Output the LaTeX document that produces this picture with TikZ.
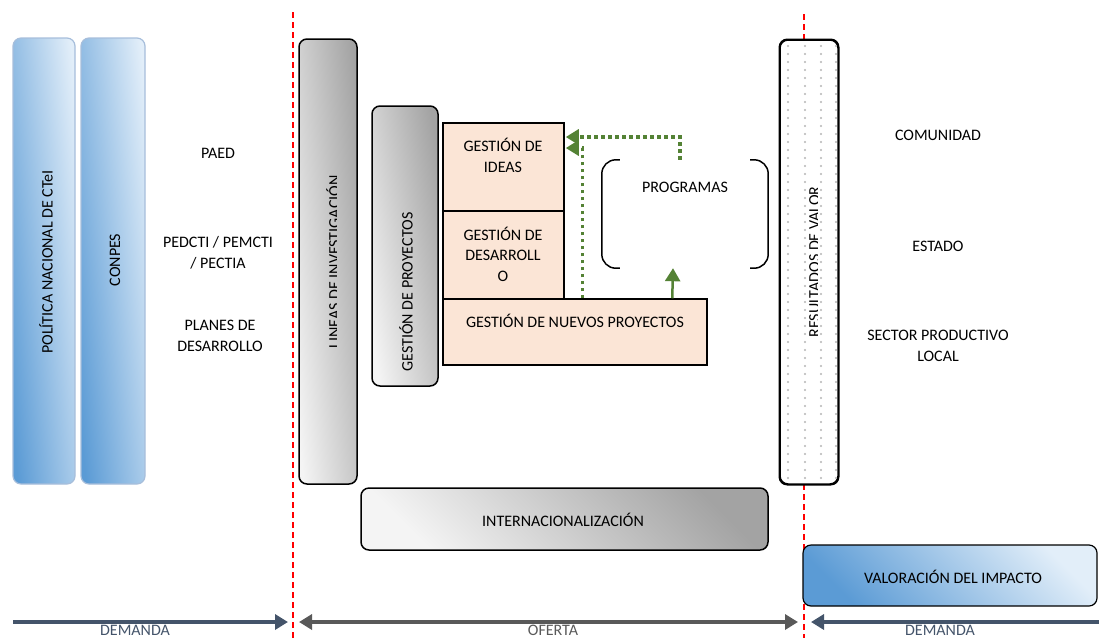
\documentclass[tikz,border=0pt]{standalone}
\usepackage{fontspec}
\setmainfont{Carlito}
\usetikzlibrary{arrows.meta,calc}
\definecolor{bluedark}{HTML}{5B9BD5}
\definecolor{bluelight}{HTML}{E2EEF9}
\definecolor{blueborder}{HTML}{A7BEDB}
\definecolor{graydark}{HTML}{A3A3A3}
\definecolor{graylight}{HTML}{F4F4F4}
\definecolor{peach}{HTML}{FBE5D6}
\definecolor{gr}{HTML}{548235}
\definecolor{demcol}{HTML}{44546A}
\definecolor{ofcol}{HTML}{595959}
\definecolor{dotcol}{HTML}{B4B4B4}
\begin{document}
\begin{tikzpicture}[x=1pt,y=-1pt,
  font=\fontsize{16}{20.5}\selectfont,
  txt/.style={align=center, inner sep=0pt},
  bluebox/.style={draw=blueborder, line width=1.2pt, rounded corners=8pt, inner sep=0pt,
     top color=bluelight, bottom color=bluedark, shading angle=-45},
  tallblue/.style={bluebox, shading angle=-84},
  graybox/.style={draw=black, line width=1.5pt, rounded corners=8pt, inner sep=0pt,
     top color=graydark, bottom color=graylight, shading angle=-45},
  tallgray/.style={graybox, shading angle=-84},
  pbox/.style={draw=black, line width=1.5pt, fill=peach, inner sep=0pt},
  redline/.style={red, line width=1.5pt, dash pattern=on 6pt off 4pt},
  gdot/.style={gr, line width=3.5pt, dash pattern=on 3.5pt off 3.5pt,
     -{Triangle[length=13pt,width=15pt]}},
  gsolid/.style={gr, line width=2.5pt, -{Triangle[length=13pt,width=15pt]}},
  bracket/.style={draw=black, line width=1.5pt, rounded corners=14pt},
  demarrow/.style={demcol, line width=4pt, -{Triangle[length=13pt,width=15pt]}},
  ofarrow/.style={ofcol, line width=4pt, {Triangle[length=13pt,width=15pt]}-{Triangle[length=13pt,width=15pt]}}
]
\useasboundingbox (0,0) rectangle (1099,638);

% red dashed separators
\coordinate (r1t) at (293,12); \coordinate (r1b) at (293,638);
\coordinate (r2t) at (804,14); \coordinate (r2b) at (804,638);
\draw[redline] (r1t) -- (r1b);
\draw[redline] (r2t) -- (r2b);

% left blue columns
\node[tallblue, minimum width=62, minimum height=446] (pol) at (44,261) {};
\node[rotate=90, txt] (polt) at (46,262) {POLÍTICA NACIONAL DE CTeI};
\node[tallblue, minimum width=64, minimum height=446] (conpes) at (113,261) {};
\node[rotate=90, txt] (conpest) at (115,260) {CONPES};

% demand texts
\node[txt] (paed) at (218,153) {PAED};
\node[txt] (pedcti) at (218,253) {PEDCTI / PEMCTI\\/ PECTIA};
\node[txt] (planes) at (220,336) {PLANES DE\\DESARROLLO};

% lineas de investigacion
\node[tallgray, minimum width=58, minimum height=445] (lineas) at (328,261.5) {};
\begin{scope}
  \clip (299,39) rectangle (336.5,484);
  \node[rotate=90, anchor=base, inner sep=0pt] (lineast) at (339.5,262) {LINEAS DE INVESTIGACIÓN};
\end{scope}

% gestion de proyectos
\node[graybox, shading angle=-80, minimum width=66, minimum height=280] (gproy) at (405,246) {};
\node[rotate=90, txt] (gproyt) at (406,292) {GESTIÓN DE PROYECTOS};

% peach boxes
\node[pbox, minimum width=121, minimum height=88] (ideas) at (503.5,167) {};
\node[txt] (ideast) at (503,155.5) {GESTIÓN DE\\IDEAS};
\node[pbox, minimum width=121, minimum height=88] (desa) at (503.5,255) {};
\node[txt] (desat) at (503,254) {GESTIÓN DE\\DESARROLL\\O};
\node[pbox, minimum width=264, minimum height=66] (nuevos) at (575,332) {};
\node[txt] (nuevost) at (575,321) {GESTIÓN DE NUEVOS PROYECTOS};

% programas
\node[minimum width=166, minimum height=108, inner sep=0pt] (prog) at (685,214) {};
\draw[bracket] ($(prog.north west)+(18,0)$) -- (prog.north west) -- (prog.south west) -- ($(prog.south west)+(18,0)$);
\draw[bracket] ($(prog.north east)+(-18,0)$) -- (prog.north east) -- (prog.south east) -- ($(prog.south east)+(-18,0)$);
\node[txt] (progt) at (685,187) {PROGRAMAS};

% green arrows
\draw[gdot] ($(prog.north)+(-5,0)$) |- ($(ideas.east)+(1,-30)$);
\draw[gdot] ($(nuevos.north west)+(140,0)$) |- ($(ideas.east)+(1,-19)$);
\draw[gsolid] ($(nuevos.north west)+(230,0)$) -- ($(prog.south)+(-12,0)$);

% resultados de valor
\node[draw=black, fill=white, line width=1.5pt, rounded corners=8pt, minimum width=58, minimum height=444, inner sep=0pt] (res) at (809,262) {};
\foreach \xx in {788,805,821,836} {
  \foreach \yy in {46,54,...,478} {
    \fill[dotcol] (\xx,\yy) circle (1.1pt);
  }
}
\begin{scope}
  \clip (780,40) rectangle (817,484);
  \node[rotate=90, anchor=base, inner sep=0pt] (rest) at (819.5,262) {RESULTADOS DE VALOR};
\end{scope}
\draw[black, line width=1.5pt, rounded corners=8pt] (res.north west) rectangle (res.south east);

% right texts
\node[txt] (comu) at (938,135) {COMUNIDAD};
\node[txt] (estado) at (938,246) {ESTADO};
\node[txt] (sector) at (938,346) {SECTOR PRODUCTIVO\\LOCAL};

% internacionalizacion
\node[graybox, minimum width=407, minimum height=62] (inter) at (564.5,519) {};
\node[txt] (intert) at (563,520) {INTERNACIONALIZACIÓN};

% valoracion del impacto
\node[bluebox, draw=black, minimum width=294, minimum height=61] (valor) at (950,575.5) {};
\node[txt] (valort) at (953,577) {VALORACIÓN DEL IMPACTO};

% bottom arrows
\coordinate (d1s) at (13,622); \coordinate (d1e) at (288,622);
\coordinate (o1s) at (299,622); \coordinate (o1e) at (798,622);
\coordinate (d2s) at (1099,622); \coordinate (d2e) at (811,622);
\draw[demarrow] (d1s) -- (d1e);
\draw[ofarrow] (o1s) -- (o1e);
\draw[demarrow] (d2s) -- (d2e);
\node[txt, text=demcol] (dem1) at (135,630) {DEMANDA};
\node[txt, text=ofcol] (ofe) at (553,630) {OFERTA};
\node[txt, text=demcol] (dem2) at (940,630) {DEMANDA};
\end{tikzpicture}
\end{document}
